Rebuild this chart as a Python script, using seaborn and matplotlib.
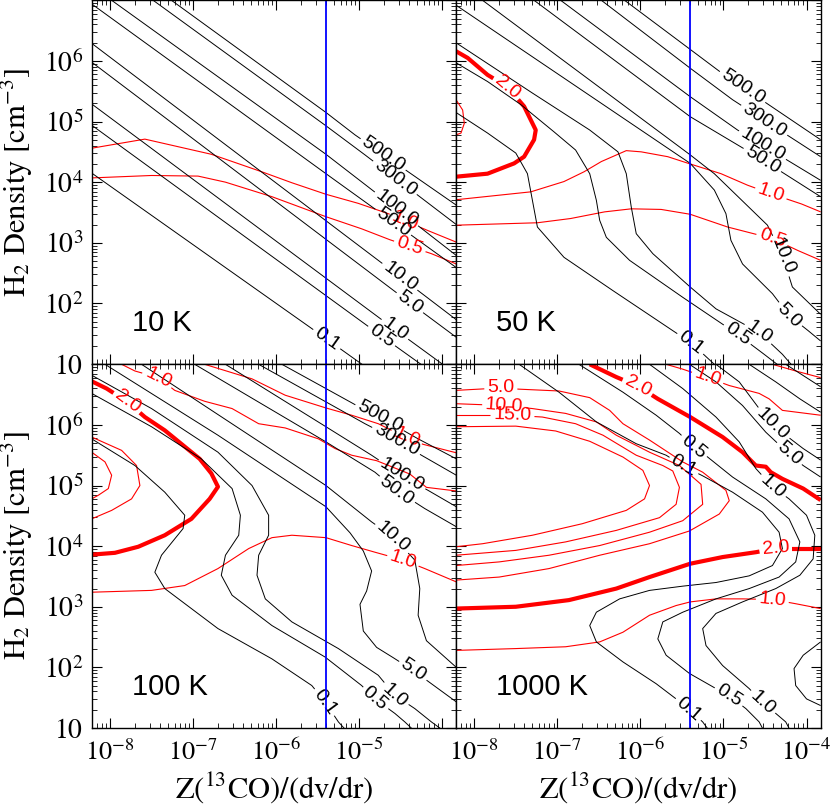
import numpy as np
import pandas as pd
import matplotlib
matplotlib.use("Agg")
import matplotlib.pyplot as plt
import seaborn as sns
from matplotlib.ticker import FixedLocator, FixedFormatter, LogLocator, NullFormatter

# ------------------------------------------------------------------
# DATA  (all curve points are log10 values: (log10 Z(13CO)/(dv/dr), log10 n(H2)))
# ------------------------------------------------------------------
PANEL_TITLES = ["10 K", "50 K", "100 K", "1000 K"]
X_LIM_LOG = (-8.22, -3.83)
Y_LIM_LOG = (1.0, 7.0)
BLUE_LINE_X = 4.0e-6
X_TICK_EXP = [-8, -7, -6, -5, -4]
Y_TICK_EXP = [1, 2, 3, 4, 5, 6, 7]
X_TICK_LABELS_LEFT = ["$10^{-8}$", "$10^{-7}$", "$10^{-6}$", "$10^{-5}$", ""]
X_TICK_LABELS_RIGHT = ["$10^{-8}$", "$10^{-7}$", "$10^{-6}$", "$10^{-5}$", "$10^{-4}$"]
Y_TICK_LABELS = ["$10$", "$10^{2}$", "$10^{3}$", "$10^{4}$", "$10^{5}$", "$10^{6}$", ""]
THICK_RED_LEVEL = 2.0

# ---------------- 10 K ----------------
K10_BLACK = {
    500.0: [[(-7.26, 7.0), (-5.40, 5.15), (-5.05, 4.78), (-3.83, 3.62)]],
    300.0: [[(-7.48, 7.0), (-5.40, 4.93), (-4.93, 4.45), (-3.83, 3.30)]],
    100.0: [[(-7.98, 7.0), (-5.40, 4.46), (-4.89, 3.92), (-3.83, 2.79)]],
    50.0: [[(-8.22, 6.94), (-5.40, 4.14), (-3.83, 2.59)]],
    10.0: [[(-8.22, 6.29), (-4.51, 2.44), (-3.83, 1.73)]],
    5.0: [[(-8.22, 5.98), (-4.39, 2.01), (-3.83, 1.44)]],
    1.0: [[(-8.22, 5.29), (-4.57, 1.57), (-3.95, 0.95)]],
    0.5: [[(-8.22, 4.94), (-4.73, 1.46), (-4.21, 0.95)]],
    0.1: [[(-8.22, 4.15), (-5.39, 1.41), (-4.92, 0.95)]],
}
K10_BLACK_LABELS = [(500.0, -4.71, 4.46), (300.0, -4.57, 4.07), (100.0, -4.55, 3.56),
                    (50.0, -4.59, 3.34), (10.0, -4.51, 2.44), (5.0, -4.39, 2.01),
                    (1.0, -4.57, 1.57), (0.5, -4.73, 1.46), (0.1, -5.39, 1.41)]
K10_RED = {
    1.0: [[(-8.22, 4.56), (-7.58, 4.71), (-6.78, 4.46), (-6.17, 4.17), (-5.81, 3.99), (-5.40, 3.80),
           (-5.01, 3.65), (-4.65, 3.48), (-4.17, 3.20), (-3.83, 3.01)]],
    0.5: [[(-8.22, 4.07), (-7.50, 4.11), (-6.94, 4.10), (-6.61, 4.00), (-6.05, 3.76), (-5.40, 3.43),
           (-4.97, 3.23), (-4.63, 3.05), (-4.13, 2.82), (-3.83, 2.65)]],
}
K10_RED_LABELS = [(1.0, -4.45, 3.36), (0.5, -4.39, 2.94)]

# ---------------- 50 K ----------------
K50_BLACK = {
    500.0: [[(-6.19, 7.0), (-5.40, 6.19), (-5.03, 5.81), (-3.83, 4.70)]],
    300.0: [[(-6.47, 7.0), (-5.40, 5.88), (-4.89, 5.36), (-3.83, 4.42)]],
    100.0: [[(-6.96, 7.0), (-5.40, 5.41), (-4.83, 4.86), (-3.83, 4.03)]],
    50.0: [[(-7.28, 7.0), (-5.40, 5.08), (-4.53, 4.37), (-3.83, 3.76)]],
    10.0: [[(-7.90, 7.0), (-5.40, 4.45), (-5.11, 4.14), (-4.47, 3.29), (-4.29, 2.79), (-4.17, 2.27),
            (-3.83, 1.82)]],
    5.0: [[(-8.22, 6.92), (-5.40, 4.31), (-5.11, 3.87), (-4.97, 3.48), (-4.91, 3.04), (-4.77, 2.65),
           (-4.41, 2.16), (-4.21, 1.80), (-3.98, 1.55), (-3.83, 1.38)]],
    1.0: [[(-8.22, 6.30), (-7.30, 5.47), (-6.61, 4.86), (-6.27, 4.50), (-6.17, 4.14), (-6.11, 3.59),
           (-6.05, 3.15), (-5.85, 2.82), (-5.40, 2.27), (-5.09, 1.91), (-4.57, 1.52), (-4.29, 1.16),
           (-4.17, 0.97)]],
    0.5: [[(-8.22, 5.97), (-7.84, 5.66), (-7.44, 5.28), (-7.04, 4.83), (-6.78, 4.53), (-6.61, 4.14),
           (-6.53, 3.70), (-6.49, 3.37), (-6.41, 3.09), (-6.13, 2.71), (-5.49, 2.10), (-4.83, 1.49),
           (-4.51, 1.16), (-4.33, 0.97)]],
    0.1: [[(-8.22, 5.15), (-7.84, 4.81), (-7.50, 4.48), (-7.36, 4.14), (-7.30, 3.70), (-7.24, 3.26),
           (-6.92, 2.76), (-6.33, 2.21), (-5.61, 1.55), (-5.39, 1.35), (-5.09, 0.97)]],
}
K50_BLACK_LABELS = [(500.0, -4.77, 5.57), (300.0, -4.51, 5.02), (100.0, -4.53, 4.61),
                    (50.0, -4.53, 4.37), (10.0, -4.29, 2.79), (5.0, -4.21, 1.80),
                    (1.0, -4.57, 1.52), (0.5, -4.83, 1.49), (0.1, -5.39, 1.35)]
K50_RED = {
    2.0: [[(-8.22, 6.16), (-8.08, 6.05), (-7.84, 5.77), (-7.60, 5.57), (-7.40, 5.25), (-7.26, 4.86),
           (-7.28, 4.70), (-7.40, 4.42), (-7.52, 4.31), (-7.84, 4.14), (-8.22, 4.09)]],
    5.0: [[(-8.22, 5.36), (-8.14, 5.19), (-8.12, 4.97), (-8.16, 4.81), (-8.22, 4.78)]],
    1.0: [[(-8.22, 3.71), (-7.32, 3.84), (-6.92, 4.01), (-6.68, 4.17), (-6.47, 4.34), (-6.17, 4.52),
           (-5.99, 4.50), (-5.67, 4.42), (-5.40, 4.30), (-5.03, 4.14), (-4.71, 3.95), (-4.43, 3.81),
           (-4.19, 3.70), (-4.06, 3.64), (-3.83, 3.51)]],
    0.5: [[(-8.22, 3.29), (-7.24, 3.33), (-6.84, 3.40), (-6.43, 3.51), (-6.11, 3.56), (-5.75, 3.55),
           (-5.40, 3.47), (-4.95, 3.26), (-4.41, 3.07), (-4.10, 2.87), (-3.83, 2.71)]],
}
K50_RED_LABELS = [(2.0, -7.60, 5.57), (1.0, -4.43, 3.81), (0.5, -4.41, 3.07)]

# ---------------- 100 K ----------------
K100_BLACK = {
    500.0: [[(-5.93, 7.0), (-5.40, 6.60), (-5.03, 6.32), (-4.75, 6.13), (-4.29, 5.77), (-3.83, 5.44)]],
    300.0: [[(-6.21, 7.0), (-5.40, 6.38), (-4.93, 6.02), (-4.55, 5.75), (-4.25, 5.50), (-3.83, 5.17)]],
    100.0: [[(-6.61, 7.0), (-5.40, 5.97), (-4.85, 5.50), (-4.49, 5.17), (-4.17, 4.92), (-3.83, 4.65)]],
    50.0: [[(-6.98, 7.0), (-5.40, 5.72), (-4.81, 5.22), (-4.55, 4.92), (-4.21, 4.62), (-3.83, 4.32)]],
    10.0: [[(-7.62, 7.0), (-5.40, 5.00), (-4.85, 4.40), (-4.59, 4.15), (-4.33, 3.77), (-4.27, 3.30),
            (-4.29, 2.86), (-4.19, 2.44), (-3.83, 2.00)]],
    5.0: [[(-8.06, 7.0), (-6.70, 5.83), (-5.40, 4.65), (-5.11, 4.22), (-4.95, 3.92), (-4.85, 3.59),
           (-4.91, 3.26), (-4.99, 3.04), (-4.95, 2.60), (-4.79, 2.33), (-4.59, 2.16), (-4.35, 1.95),
           (-4.10, 1.70), (-3.83, 1.43)]],
    1.0: [[(-8.22, 6.82), (-7.50, 6.27), (-6.70, 5.55), (-6.29, 5.00), (-6.09, 4.51), (-6.09, 4.18),
           (-6.21, 3.85), (-6.23, 3.52), (-6.13, 3.13), (-5.81, 2.75), (-5.25, 2.31), (-4.77, 1.87),
           (-4.57, 1.54), (-4.33, 1.32), (-4.13, 1.10), (-4.00, 0.97)]],
    0.5: [[(-8.22, 6.52), (-7.50, 5.97), (-6.90, 5.44), (-6.53, 4.95), (-6.43, 4.51), (-6.45, 4.18),
           (-6.61, 3.85), (-6.66, 3.52), (-6.53, 3.19), (-6.05, 2.69), (-5.41, 2.17), (-4.97, 1.70),
           (-4.81, 1.48), (-4.57, 1.24), (-4.45, 1.10), (-4.35, 0.97)]],
    0.1: [[(-8.22, 5.77), (-7.70, 5.33), (-7.34, 4.89), (-7.10, 4.51), (-7.12, 4.29), (-7.38, 3.85),
           (-7.46, 3.57), (-7.34, 3.30), (-6.70, 2.64), (-6.05, 2.14), (-5.57, 1.70), (-5.41, 1.43),
           (-5.25, 1.10), (-5.15, 0.95)]],
}
K100_BLACK_LABELS = [(500.0, -4.75, 6.13), (300.0, -4.55, 5.75), (100.0, -4.49, 5.17),
                     (50.0, -4.55, 4.92), (10.0, -4.59, 4.15), (5.0, -4.35, 1.95),
                     (1.0, -4.57, 1.54), (0.5, -4.81, 1.48), (0.1, -5.41, 1.43)]
K100_RED = {
    2.0: [[(-8.22, 6.72), (-8.04, 6.60), (-7.79, 6.38), (-7.58, 6.13), (-7.34, 5.91), (-6.92, 5.44),
           (-6.78, 5.20), (-6.70, 4.98), (-6.80, 4.78), (-7.02, 4.45), (-7.34, 4.18), (-7.66, 3.99),
           (-7.94, 3.89), (-8.22, 3.86)]],
    1.0: [[(-7.86, 7.0), (-7.70, 6.89), (-7.42, 6.78), (-7.22, 6.57), (-6.86, 6.39), (-6.53, 6.27),
           (-6.21, 6.02), (-5.89, 5.95), (-5.49, 5.77), (-5.29, 5.61), (-5.09, 5.50), (-4.79, 5.41),
           (-4.39, 5.19), (-4.19, 4.97), (-3.83, 4.91)],
          [(-6.86, 7.0), (-6.29, 6.76), (-5.89, 6.49), (-5.40, 6.28), (-5.09, 6.16), (-4.77, 6.02),
           (-4.43, 5.79), (-4.23, 5.68), (-3.83, 5.54)],
          [(-8.22, 3.24), (-7.50, 3.27), (-7.10, 3.35), (-6.70, 3.63), (-6.33, 3.96), (-6.05, 4.14),
           (-5.81, 4.18), (-5.40, 4.14), (-5.09, 4.01), (-4.81, 3.90), (-4.47, 3.77), (-4.21, 3.63),
           (-3.83, 3.41)]],
    5.0: [[(-8.22, 5.80), (-7.86, 5.58), (-7.68, 5.33), (-7.64, 5.00), (-7.74, 4.78), (-7.98, 4.59),
           (-8.22, 4.45)]],
    10.0: [[(-8.22, 5.55), (-8.06, 5.39), (-7.98, 5.17), (-8.02, 4.95), (-8.14, 4.84), (-8.22, 4.78)]],
}
K100_RED_LABELS = [(2.0, -7.79, 6.38), (1.0, -7.42, 6.78), (1.0, -4.43, 5.79), (1.0, -4.47, 3.77)]

# ---------------- 1000 K ----------------
K1000_BLACK = {
    0.1: [[(-7.46, 7.0), (-6.98, 6.54), (-6.53, 6.05), (-6.05, 5.69), (-5.69, 5.50), (-5.48, 5.32),
           (-5.25, 5.16), (-4.89, 4.89), (-4.53, 4.56), (-4.33, 4.23), (-4.29, 3.96), (-4.41, 3.68),
           (-4.69, 3.51), (-5.09, 3.40), (-5.49, 3.34), (-5.89, 3.27), (-6.25, 3.13), (-6.53, 2.91),
           (-6.61, 2.69), (-6.53, 2.42), (-6.21, 2.09), (-5.81, 1.73), (-5.57, 1.48), (-5.42, 1.31),
           (-5.25, 1.10), (-5.18, 0.97)]],
    0.5: [[(-6.74, 7.0), (-6.21, 6.54), (-5.81, 6.16), (-5.53, 5.86), (-5.36, 5.64), (-5.19, 5.47),
           (-4.89, 5.14), (-4.49, 4.78), (-4.21, 4.45), (-4.08, 4.07), (-4.13, 3.74), (-4.33, 3.49),
           (-4.69, 3.30), (-5.09, 3.13), (-5.49, 2.91), (-5.73, 2.75), (-5.79, 2.47), (-5.69, 2.20),
           (-5.41, 1.90), (-5.09, 1.65), (-4.93, 1.53), (-4.73, 1.32), (-4.57, 1.10), (-4.52, 0.97)]],
    1.0: [[(-5.89, 7.0), (-5.49, 6.60), (-5.09, 6.13), (-4.81, 5.72), (-4.61, 5.28), (-4.41, 4.98),
           (-4.21, 4.78), (-4.00, 4.51), (-3.90, 4.18), (-3.92, 3.79), (-4.08, 3.52), (-4.37, 3.30),
           (-4.77, 3.08), (-5.09, 2.89), (-5.25, 2.64), (-5.21, 2.36), (-5.01, 2.03), (-4.69, 1.65),
           (-4.53, 1.42), (-4.37, 1.24), (-4.25, 1.10), (-4.20, 0.97)]],
    5.0: [[(-5.41, 7.0), (-5.09, 6.71), (-4.77, 6.32), (-4.49, 5.88), (-4.21, 5.52), (-4.04, 5.33),
           (-3.83, 5.14)],
          [(-3.83, 2.42), (-4.04, 2.20), (-4.15, 1.98), (-4.13, 1.70), (-4.00, 1.48), (-3.83, 1.37)]],
    10.0: [[(-5.09, 7.0), (-4.81, 6.71), (-4.57, 6.27), (-4.41, 6.01), (-4.25, 5.83), (-4.04, 5.61),
            (-3.83, 5.42)]],
    50.0: [[(-4.69, 7.0), (-4.37, 6.71), (-4.08, 6.43), (-3.83, 6.21)]],
    100.0: [[(-4.25, 7.0), (-3.83, 6.63)]],
}
K1000_BLACK_LABELS = [(0.1, -5.48, 5.32), (0.1, -5.42, 1.31), (0.5, -5.36, 5.64), (0.5, -4.93, 1.53),
                      (1.0, -4.41, 4.98), (1.0, -4.53, 1.42), (5.0, -4.21, 5.52), (10.0, -4.41, 6.01)]
K1000_RED = {
    2.0: [[(-6.61, 7.0), (-6.29, 6.79), (-6.03, 6.64), (-5.79, 6.43), (-5.40, 6.13), (-5.01, 5.80),
           (-4.77, 5.55), (-4.61, 5.33), (-4.49, 5.31), (-4.43, 5.22), (-4.29, 5.11), (-4.04, 4.95),
           (-3.83, 4.76)],
          [(-8.22, 2.97), (-7.50, 3.00), (-6.86, 3.11), (-6.29, 3.30), (-5.89, 3.49), (-5.40, 3.71),
           (-5.01, 3.82), (-4.61, 3.90), (-4.37, 3.96), (-4.08, 3.96), (-3.83, 3.96)]],
    1.0: [[(-5.69, 7.0), (-5.49, 6.92), (-5.19, 6.78), (-4.93, 6.65), (-4.57, 6.52), (-4.45, 6.43),
           (-4.29, 6.24), (-3.83, 6.16)],
          [(-8.22, 2.28), (-7.50, 2.31), (-6.90, 2.34), (-6.49, 2.42), (-6.21, 2.58), (-5.89, 2.86),
           (-5.57, 3.02), (-5.40, 3.08), (-5.09, 3.13), (-4.77, 3.13), (-4.41, 3.12), (-4.13, 3.05),
           (-3.83, 2.97)]],
    0.5: [[(-4.41, 7.0), (-4.13, 6.89), (-3.83, 6.78)]],
    5.0: [[(-8.22, 6.57), (-7.68, 6.61), (-7.46, 6.59), (-6.98, 6.56), (-6.61, 6.45), (-6.37, 6.24),
           (-6.21, 6.02), (-5.89, 5.75), (-5.49, 5.39), (-5.25, 5.22), (-4.97, 4.92), (-4.93, 4.75),
           (-5.05, 4.53), (-5.41, 4.25), (-5.89, 4.04), (-6.49, 3.85), (-7.10, 3.63), (-7.70, 3.49),
           (-8.22, 3.44)]],
    10.0: [[(-8.22, 6.35), (-7.64, 6.32), (-7.30, 6.27), (-6.90, 6.19), (-6.53, 6.05), (-6.29, 5.83),
            (-5.89, 5.55), (-5.53, 5.33), (-5.27, 5.02), (-5.25, 4.69), (-5.49, 4.42), (-5.89, 4.23),
            (-6.49, 4.01), (-7.10, 3.85), (-7.70, 3.74), (-8.22, 3.68)]],
    15.0: [[(-8.22, 6.16), (-7.54, 6.16), (-7.18, 6.13), (-6.78, 6.02), (-6.45, 5.83), (-6.05, 5.50),
            (-5.73, 5.33), (-5.61, 5.24), (-5.53, 4.97), (-5.57, 4.69), (-5.77, 4.47), (-6.29, 4.26),
            (-6.90, 4.07), (-7.50, 3.93), (-8.22, 3.85)]],
    20.0: [[(-8.22, 5.97), (-7.50, 5.98), (-7.02, 5.90), (-6.61, 5.73), (-6.21, 5.47), (-5.97, 5.25),
            (-5.89, 5.00), (-5.95, 4.78), (-6.17, 4.59), (-6.70, 4.37), (-7.30, 4.18), (-7.90, 4.04),
            (-8.22, 3.99)]],
}
K1000_RED_LABELS = [(2.0, -6.03, 6.64), (2.0, -4.37, 3.96), (1.0, -5.19, 6.78), (1.0, -4.41, 3.12),
                    (5.0, -7.68, 6.61), (10.0, -7.64, 6.32), (15.0, -7.54, 6.16)]

PANELS = [
    (K10_BLACK, K10_BLACK_LABELS, K10_RED, K10_RED_LABELS),
    (K50_BLACK, K50_BLACK_LABELS, K50_RED, K50_RED_LABELS),
    (K100_BLACK, K100_BLACK_LABELS, K100_RED, K100_RED_LABELS),
    (K1000_BLACK, K1000_BLACK_LABELS, K1000_RED, K1000_RED_LABELS),
]

# ------------------------------------------------------------------
# STYLE
# ------------------------------------------------------------------
sns.set_style("ticks")
LABEL_FONT = ["Liberation Sans", "DejaVu Sans"]
SERIF = ["STIXGeneral", "Liberation Serif", "DejaVu Serif"]
plt.rcParams.update({
    "font.family": LABEL_FONT,
    "mathtext.fontset": "stix",
    "axes.edgecolor": "black",
    "axes.linewidth": 1.0,
    "xtick.color": "black",
    "ytick.color": "black",
    "text.color": "black",
    "axes.labelcolor": "black",
})
LABEL_SIZE = 14
BLACK_LW = 0.7
RED_LW = 0.8
RED_THICK_LW = 3.0

fig = plt.figure(figsize=(8.3, 8.06), dpi=100)
renderer = fig.canvas.get_renderer()

col_x = [0.1105, 0.5494]
col_w = 0.4393
row_y = [0.5484, 0.0968]
row_h = 0.4512


def text_width(ax, s):
    t = ax.text(0, 0, s, fontsize=LABEL_SIZE, family=LABEL_FONT)
    w = t.get_window_extent(renderer).width
    t.remove()
    return w


def nearest_on(pieces, target):
    best = None
    for pi, s in enumerate(pieces):
        if len(s) < 2:
            continue
        a, b = s[:-1], s[1:]
        d = b - a
        l2 = (d ** 2).sum(axis=1)
        t = np.where(l2 > 0, ((target - a) * d).sum(axis=1) / np.where(l2 > 0, l2, 1.0), 0.0)
        t = np.clip(t, 0.0, 1.0)
        p = a + t[:, None] * d
        dist = np.hypot(*(p - target).T)
        j = int(np.argmin(dist))
        if best is None or dist[j] < best[0]:
            best = (dist[j], pi, j, t[j])
    return best


def draw_level(ax, segs, label_xy, text, color, lw, pad=3.0):
    """Draw one contour level (list of log-space polylines) with inline labels."""
    T = ax.transData
    pieces = [T.transform(np.power(10.0, np.asarray(seg, dtype=float))) for seg in segs]
    width = text_width(ax, text) + 2 * pad
    labels = []
    for lx, ly in label_xy:
        target = T.transform((10.0 ** lx, 10.0 ** ly))
        found = nearest_on(pieces, target)
        if found is None:
            continue
        _, pi, j, t = found
        s = pieces[pi]
        seglen = np.hypot(*np.diff(s, axis=0).T)
        cum = np.concatenate([[0.0], np.cumsum(seglen)])
        s0 = cum[j] + t * seglen[j]

        def point_at(v):
            return np.array([np.interp(v, cum, s[:, 0]), np.interp(v, cum, s[:, 1])])

        lo, hi = s0 - width / 2, s0 + width / 2
        pa, pb = point_at(max(lo, 0.0)), point_at(min(hi, cum[-1]))
        ang = np.degrees(np.arctan2(pb[1] - pa[1], pb[0] - pa[0]))
        if ang > 90:
            ang -= 180
        elif ang < -90:
            ang += 180
        labels.append((point_at(s0), ang))
        new = []
        if lo > 0:
            new.append(np.vstack([s[cum < lo], point_at(lo)]))
        if hi < cum[-1]:
            new.append(np.vstack([point_at(hi), s[cum > hi]]))
        pieces = pieces[:pi] + new + pieces[pi + 1:]
    inv = T.inverted()
    for s in pieces:
        if len(s) < 2:
            continue
        d = inv.transform(s)
        ax.plot(d[:, 0], d[:, 1], color=color, lw=lw, solid_capstyle="butt", zorder=3)
    for p, ang in labels:
        dx, dy = inv.transform(p)
        ax.text(dx, dy, text, rotation=ang, rotation_mode="anchor", ha="center", va="center",
                color=color, fontsize=LABEL_SIZE, family=LABEL_FONT, zorder=4, clip_on=True)


for i, (blk, blk_lab, red, red_lab) in enumerate(PANELS):
    r, c = divmod(i, 2)
    ax = fig.add_axes([col_x[c], row_y[r], col_w, row_h])
    ax.set_xscale("log")
    ax.set_yscale("log")
    xlim = (10.0 ** X_LIM_LOG[0], 10.0 ** X_LIM_LOG[1])
    ylim = (10.0 ** Y_LIM_LOG[0], 10.0 ** Y_LIM_LOG[1])
    ax.set_xlim(*xlim)
    ax.set_ylim(*ylim)

    blue_df = pd.DataFrame({"x": [BLUE_LINE_X, BLUE_LINE_X], "y": list(ylim)})
    sns.lineplot(data=blue_df, x="x", y="y", ax=ax, color="#0000ff", linewidth=1.3,
                 estimator=None, sort=False, legend=False, zorder=6)
    ax.set_xlabel("")
    ax.set_ylabel("")
    ax.set_xlim(*xlim)
    ax.set_ylim(*ylim)
    ax.set_autoscale_on(False)

    # ticks
    ax.xaxis.set_major_locator(FixedLocator([10.0 ** e for e in X_TICK_EXP]))
    ax.yaxis.set_major_locator(FixedLocator([10.0 ** e for e in Y_TICK_EXP]))
    ax.xaxis.set_minor_locator(LogLocator(base=10, subs=np.arange(2, 10) * 1.0, numticks=50))
    ax.yaxis.set_minor_locator(LogLocator(base=10, subs=np.arange(2, 10) * 1.0, numticks=50))
    ax.xaxis.set_minor_formatter(NullFormatter())
    ax.yaxis.set_minor_formatter(NullFormatter())
    if r == 1:
        ax.xaxis.set_major_formatter(FixedFormatter(X_TICK_LABELS_LEFT if c == 0 else X_TICK_LABELS_RIGHT))
    else:
        ax.xaxis.set_major_formatter(FixedFormatter([""] * len(X_TICK_EXP)))
    if c == 0:
        ax.yaxis.set_major_formatter(FixedFormatter(Y_TICK_LABELS))
    else:
        ax.yaxis.set_major_formatter(FixedFormatter([""] * len(Y_TICK_EXP)))
    ax.tick_params(which="major", direction="in", length=7, width=0.8, top=True, right=True,
                   labelsize=20)
    ax.tick_params(which="minor", direction="in", length=3.5, width=0.6, top=True, right=True)
    ax.tick_params(axis="x", which="major", pad=8, labelsize=19)
    ax.tick_params(axis="y", which="major", pad=6)
    for sp in ax.spines.values():
        sp.set_linewidth(1.0)
        sp.set_zorder(7)

    # contour lines with inline labels
    for lev, segs in red.items():
        lw = RED_THICK_LW if lev == THICK_RED_LEVEL else RED_LW
        pos = [(lx, ly) for (lv, lx, ly) in red_lab if lv == lev]
        draw_level(ax, segs, pos, f"{lev:.1f}", "#ff0000", lw)
    for lev, segs in blk.items():
        pos = [(lx, ly) for (lv, lx, ly) in blk_lab if lv == lev]
        draw_level(ax, segs, pos, f"{lev:.1f}", "black", BLACK_LW)

    ax.text(0.11, 0.09, PANEL_TITLES[i], transform=ax.transAxes, fontsize=21,
            family=LABEL_FONT, ha="left", va="baseline", zorder=8)

# axis titles
for c in range(2):
    fig.text(col_x[c] + col_w / 2, 0.011, "Z($^{13}$CO)/(dv/dr)", ha="center", va="baseline",
             fontsize=22, family=SERIF)
for yc in (0.774, 0.3226):
    fig.text(0.0205, yc, "H$_2$ Density [cm$^{-3}$]", rotation=90, ha="center", va="center",
             fontsize=22, family=SERIF)

fig.savefig("out.png", dpi=100)
